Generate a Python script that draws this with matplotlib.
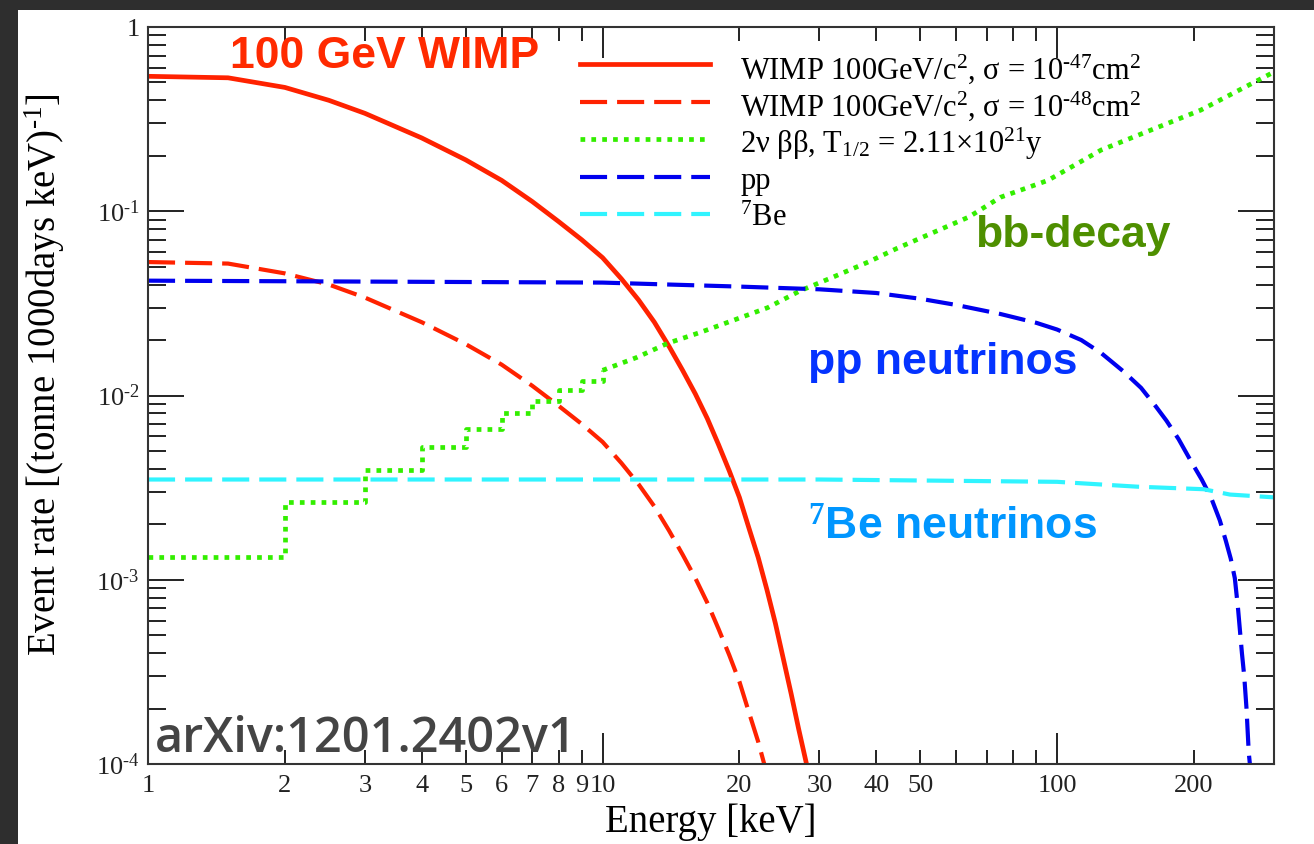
import matplotlib
matplotlib.use("Agg")
import matplotlib.pyplot as plt
from matplotlib.patches import Rectangle
from matplotlib.ticker import FixedLocator, NullFormatter

plt.rcParams['font.family'] = ['Liberation Serif', 'DejaVu Serif']
plt.rcParams['mathtext.fontset'] = 'custom'
plt.rcParams['mathtext.rm'] = 'Liberation Serif'
plt.rcParams['mathtext.it'] = 'Liberation Serif:italic'
plt.rcParams['mathtext.bf'] = 'Liberation Serif:bold'

# WIMP 100 GeV, sigma = 1e-47 cm2
e_wimp47 = [1, 1.5, 2, 2.5, 3, 4, 5, 6, 7, 8, 9, 10, 11, 12, 13, 14, 15, 16, 17, 18,
            19, 20, 21, 22, 23, 24, 25, 26, 27, 28.1]
r_wimp47 = [0.54, 0.53, 0.47, 0.40, 0.34, 0.25, 0.19, 0.147, 0.113, 0.088, 0.070, 0.056,
            0.043, 0.033, 0.025, 0.0185, 0.0137, 0.0102, 0.0075, 0.0054, 0.0039, 0.0028,
            0.0019, 0.00132, 0.00088, 0.00058, 0.00037, 0.00024, 0.000155, 0.0001]

# WIMP 100 GeV, sigma = 1e-48 cm2
e_wimp48 = [1, 1.5, 2, 2.5, 3, 4, 5, 6, 7, 8, 9, 10, 11, 12, 13, 14, 15, 16, 17, 18,
            19, 20, 21, 22, 23]
r_wimp48 = [0.053, 0.052, 0.046, 0.040, 0.034, 0.025, 0.019, 0.0147, 0.0113, 0.0088,
            0.0070, 0.0056, 0.0043, 0.0033, 0.0025, 0.00185, 0.00137, 0.00102, 0.00075,
            0.00054, 0.00039, 0.00028, 0.00019, 0.000132, 0.000088]

# 2nu beta-beta, 1 keV bins at low energy
e_bb_steps = [1, 2, 3, 4, 5, 6, 7, 8, 9, 10]
r_bb_steps = [0.00133, 0.00265, 0.00396, 0.00528, 0.0066, 0.008, 0.0093, 0.0107, 0.0120, 0.0137]
e_bb = [10, 11.9, 13.9, 16.4, 19.4, 23.1, 27.2, 32.2, 38.4, 44.5, 63.9, 75, 95.4, 125, 207, 300]
r_bb = [0.0137, 0.0161, 0.0192, 0.022, 0.0256, 0.030, 0.037, 0.044, 0.053, 0.063,
        0.093, 0.119, 0.147, 0.215, 0.354, 0.57]

# pp neutrinos
e_pp = [1, 10, 20, 30, 40, 50, 60, 75, 90, 100, 113, 125, 140, 153, 165, 174, 185, 197,
        208, 218, 228, 235, 241, 246, 250, 255, 258, 261, 264, 265.5]
r_pp = [0.042, 0.041, 0.039, 0.0377, 0.036, 0.0335, 0.031, 0.0277, 0.0248, 0.0228, 0.020,
        0.017, 0.0135, 0.011, 0.0087, 0.0073, 0.0058, 0.0044, 0.0035, 0.0028, 0.0021,
        0.00163, 0.0013, 0.00102, 0.0007, 0.0004, 0.0003, 0.0002, 0.000115, 0.0001]

# 7Be neutrinos
e_be = [1, 30, 100, 150, 210, 240, 300]
r_be = [0.0035, 0.0035, 0.0034, 0.0032, 0.0031, 0.0029, 0.0028]

W, H = 1314, 844
fig = plt.figure(figsize=(W / 100, H / 100), dpi=100)
fig.patch.set_facecolor('#2e2e2e')
fig.patches.append(Rectangle((18 / W, 0), 1 - 18 / W, 1 - 10 / H, transform=fig.transFigure,
                             facecolor='white', edgecolor='none', zorder=-10))

ax = fig.add_axes([148 / W, 1 - 764 / H, (1274 - 148) / W, (764 - 27) / H])
ax.set_xscale('log')
ax.set_yscale('log')
ax.set_xlim(1, 300)
ax.set_ylim(1e-4, 1)

red = '#ff2200'
ax.plot(e_wimp47, r_wimp47, color=red, lw=3.4,
        label=r'WIMP 100GeV/c$^2$, σ = 10$^{\text{-47}}$cm$^2$')
ax.plot(e_wimp48, r_wimp48, color=red, lw=3.0, dashes=(6.5, 2.4),
        label=r'WIMP 100GeV/c$^2$, σ = 10$^{\text{-48}}$cm$^2$')
ax.plot(e_bb_steps, r_bb_steps, color='#33ee00', lw=3.4, dashes=(1, 1.3), drawstyle='steps-post',
        label=r'2ν ββ, T$_{1/2}$ = 2.11×10$^{21}$y')
ax.plot(e_bb, r_bb, color='#33ee00', lw=3.4, dashes=(1, 1.3))
ax.plot(e_pp, r_pp, color='#0000ee', lw=3.0, dashes=(6.5, 2.4), label='pp')
ax.plot(e_be, r_be, color='#30f4ff', lw=3.0, dashes=(6.5, 2.4), label=r'$^7$Be')

# ticks
ax.yaxis.set_major_locator(FixedLocator([1e-4, 1e-3, 1e-2, 1e-1, 1]))
ax.set_yticklabels([r'10$^{\text{-4}}$', r'10$^{\text{-3}}$', r'10$^{\text{-2}}$',
                    r'10$^{\text{-1}}$', '1'])
ymin = []
for d in [1e-4, 1e-3, 1e-2, 1e-1]:
    for k in range(2, 10):
        ymin.append(k * d)
ax.yaxis.set_minor_locator(FixedLocator(ymin))
ax.yaxis.set_minor_formatter(NullFormatter())

ax.xaxis.set_major_locator(FixedLocator([1, 10, 100]))
xmin = [2, 3, 4, 5, 6, 7, 8, 9, 20, 30, 40, 50, 60, 70, 80, 90, 200, 300]
ax.xaxis.set_minor_locator(FixedLocator(xmin))
xlab_minor = {2: '2', 3: '3', 4: '4', 5: '5', 6: '6', 7: '7', 8: '8', 9: '9',
              20: '20', 30: '30', 40: '40', 50: '50', 200: '200'}
ax.set_xticklabels(['1', '10', '100'])
ax.set_xticklabels([xlab_minor.get(v, '') for v in xmin], minor=True)

ax.tick_params(axis='both', which='both', direction='in', top=True, right=True,
               colors='#222222', labelsize=19, width=1.4)
ax.tick_params(axis='y', which='major', length=26, pad=6)
ax.tick_params(axis='y', which='minor', length=13)
ax.tick_params(axis='x', which='major', length=22, pad=8)
ax.tick_params(axis='x', which='minor', length=10, pad=8)
for s in ax.spines.values():
    s.set_color('#333333')
    s.set_linewidth(1.5)

fig.text(711 / W, 1 - 832 / H, 'Energy [keV]', fontsize=28, ha='center', va='baseline')
fig.text(45 / W, 1 - 375 / H, r'Event rate [(tonne 1000days keV)$^{\text{-1}}$]',
         fontsize=28, rotation=90, ha='center', va='center')

leg = ax.legend(loc='upper left', bbox_to_anchor=(580 / W, 1 - 50 / H),
                bbox_transform=fig.transFigure, frameon=False, fontsize=22,
                handlelength=4.25, handletextpad=1.0, handleheight=1.51, labelspacing=0.0,
                borderpad=0, borderaxespad=0)
# keep every legend row the same height, text centred on its line sample
for col in leg._legend_handle_box.get_children():
    for row in col.get_children():
        row.align = 'center'

# annotations
bold = ['Liberation Sans', 'DejaVu Sans']
fig.text(230 / W, 1 - 57 / H, '100 GeV WIMP', color='#ff2a00', fontsize=32,
         fontweight='bold', family=bold, va='center')
fig.text(975 / W, 1 - 236 / H, 'bb-decay', color='#4e8f00', fontsize=32,
         fontweight='bold', family=bold, va='center')
fig.text(808 / W, 1 - 362 / H, 'pp neutrinos', color='#0433ff', fontsize=32,
         fontweight='bold', family=bold, va='center')
fig.text(808 / W, 1 - 527 / H, r'$^{\mathbf{7}}$Be neutrinos', color='#0096ff', fontsize=32,
         fontweight='bold', family=bold, va='center')
fig.text(155 / W, 1 - 740 / H, 'arXiv:1201.2402v1', color='#444444', fontsize=35,
         fontweight='semibold', family=['Open Sans', 'DejaVu Sans'], va='center')

fig.savefig('out.png', dpi=100, facecolor=fig.get_facecolor())
